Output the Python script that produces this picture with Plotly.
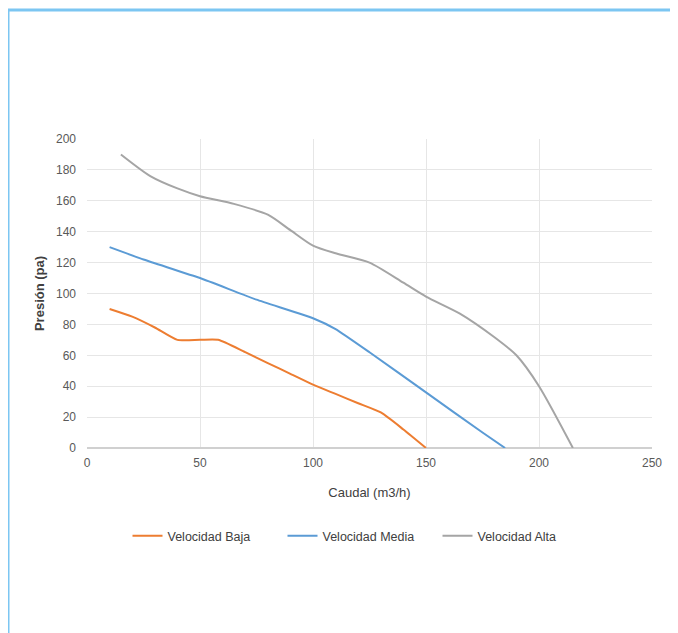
import plotly.graph_objects as go

baja_x = [10, 20, 30, 40, 50, 58, 70, 80, 90, 100, 110, 120, 130, 140, 150]
baja_y = [90, 85, 78, 70, 70, 70, 62, 55, 48, 41, 35, 29, 23, 12, 0]

media_x = [10, 25, 50, 75, 100, 110, 125, 150, 175, 185]
media_y = [130, 122, 110, 96, 84, 77, 62, 36, 10, 0]

alta_x = [15, 28, 40, 50, 65, 80, 90, 100, 110, 125, 140, 150, 165, 180, 190, 200, 215]
alta_y = [190, 176, 168, 163, 158, 151, 141, 131, 126, 120, 107, 98, 87, 72, 60, 40, 0]

# page body has an 8px margin; figure coordinates = screen - 8
OFF = 8
W, H = 678, 633
ml, mt = 87 - OFF, 139 - OFF
plot_r, plot_b = 652 - OFF, 448 - OFF
mr, mb = W - plot_r, H - plot_b
pw, ph = plot_r - ml, plot_b - mt

def px(x):
    return (x - OFF - ml) / pw

def py(y):
    return (plot_b - (y - OFF)) / ph

FONT = "Liberation Sans Narrow, Liberation Sans, Arial, sans-serif"

fig = go.Figure()
fig.add_trace(go.Scatter(x=baja_x, y=baja_y, mode="lines", name="Velocidad Baja",
                         line=dict(color="#ed7d31", width=2, shape="spline", smoothing=0.6)))
fig.add_trace(go.Scatter(x=media_x, y=media_y, mode="lines", name="Velocidad Media",
                         line=dict(color="#5b9bd5", width=2, shape="spline", smoothing=0.4)))
fig.add_trace(go.Scatter(x=alta_x, y=alta_y, mode="lines", name="Velocidad Alta",
                         line=dict(color="#a5a5a5", width=2, shape="spline", smoothing=0.7)))

fig.update_layout(
    width=W, height=H,
    margin=dict(l=ml, r=mr, t=mt, b=mb, pad=0),
    paper_bgcolor="white", plot_bgcolor="white",
    font=dict(family=FONT, size=12, color="#595959"),
    showlegend=True,
    legend=dict(orientation="h", x=px(360), xanchor="center", y=py(536), yanchor="middle",
                font=dict(size=12.5, color="#404040"), tracegroupgap=0,
                entrywidth=110, entrywidthmode="pixels"),
    xaxis=dict(range=[0, 250], tickvals=[0, 50, 100, 150, 200, 250], showgrid=True,
               gridcolor="#e6e6e6", gridwidth=1, zeroline=False, showline=False,
               ticks="", ticklabelstandoff=6,
               title=dict(text="Caudal (m3/h)", font=dict(size=13, color="#404040"), standoff=18)),
    yaxis=dict(range=[0, 200], tickvals=list(range(0, 201, 20)), showgrid=True,
               gridcolor="#e6e6e6", gridwidth=1, zeroline=True, zerolinecolor="#d0d0d0",
               showline=False, ticks="", ticklabelstandoff=10,
               title=dict(text="<b>Presión (pa)</b>", font=dict(size=13, color="#404040"), standoff=8)),
    shapes=[
        dict(type="line", xref="paper", yref="paper", x0=px(6), x1=px(700), y0=py(10), y1=py(10),
             line=dict(color="#7cc6f2", width=3)),
        dict(type="line", xref="paper", yref="paper", x0=px(8), x1=px(8), y0=py(10), y1=py(660),
             line=dict(color="#7cc6f2", width=3)),
    ],
)

fig.write_html("out.html")
